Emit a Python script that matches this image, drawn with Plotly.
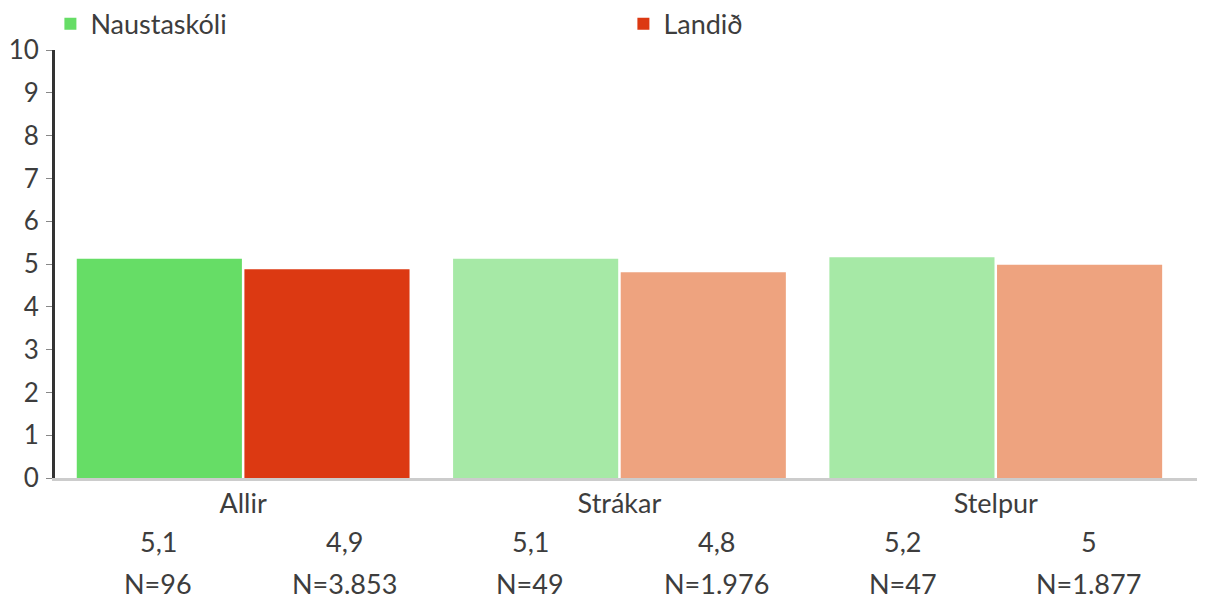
import plotly.graph_objects as go

categories = ["Allir", "Strákar", "Stelpur"]
school_values = [5.12, 5.12, 5.16]
national_values = [4.88, 4.81, 4.98]
school_labels = ["5,1", "5,1", "5,2"]
national_labels = ["4,9", "4,8", "5"]
school_n = ["N=96", "N=49", "N=47"]
national_n = ["N=3.853", "N=1.976", "N=1.877"]
school_colors = ["#66DD66", "#A6E9A6", "#A6E9A6"]
national_colors = ["#DC3912", "#EEA37F", "#EEA37F"]

FONT = "Lato"
TXT = "#3d3d3d"
FS = 27

fig = go.Figure()
fig.add_trace(go.Bar(x=categories, y=school_values, name="Naustaskóli",
                     marker=dict(color=school_colors, line=dict(width=0))))
fig.add_trace(go.Bar(x=categories, y=national_values, name="Landið",
                     marker=dict(color=national_colors, line=dict(width=0))))

# table below the chart: 6 equal columns
col_labels = []
col_n = []
for i in range(len(categories)):
    col_labels += [school_labels[i], national_labels[i]]
    col_n += [school_n[i], national_n[i]]

PLOT_X0 = 55      # page px of plot-area left edge
PLOT_W = 1149
ann = []
for k, (val, n) in enumerate(zip(col_labels, col_n)):
    xc = (158 + 186 * k - PLOT_X0) / PLOT_W
    ann.append(dict(x=xc, xref="paper", y=(478 - 541) / 428, yref="paper", text=val,
                    showarrow=False, xanchor="center", yanchor="middle",
                    font=dict(family=FONT, size=FS, color=TXT)))
    ann.append(dict(x=xc, xref="paper", y=(478 - 583) / 428, yref="paper", text=n,
                    showarrow=False, xanchor="center", yanchor="middle",
                    font=dict(family=FONT, size=FS, color=TXT)))

fig.update_layout(
    width=1197, height=591,
    margin=dict(l=47, r=0, t=42, b=121, autoexpand=False),
    paper_bgcolor="white", plot_bgcolor="white",
    barmode="group", bargap=0.109, bargroupgap=0.015,
    font=dict(family=FONT, size=FS, color=TXT),
    showlegend=True,
    legend=dict(orientation="h", x=-0.004, xanchor="left", y=1.06, yanchor="middle",
                entrywidth=528, entrywidthmode="pixels",
                font=dict(family=FONT, size=FS, color=TXT), bgcolor="rgba(0,0,0,0)"),
    xaxis=dict(type="category", range=[-0.5, 2.556], showline=True, linecolor="#cccccc",
               linewidth=3, ticks="", showgrid=False, zeroline=False,
               tickfont=dict(family=FONT, size=FS, color=TXT)),
    yaxis=dict(range=[0, 10], dtick=1, showline=True, linecolor="#333333", linewidth=3,
               ticks="outside", ticklen=6, tickwidth=1, tickcolor="#888888",
               ticklabelstandoff=2,
               showgrid=False, zeroline=False,
               tickfont=dict(family=FONT, size=26, color=TXT)),
    annotations=ann,
)

fig.write_html("out.html")
